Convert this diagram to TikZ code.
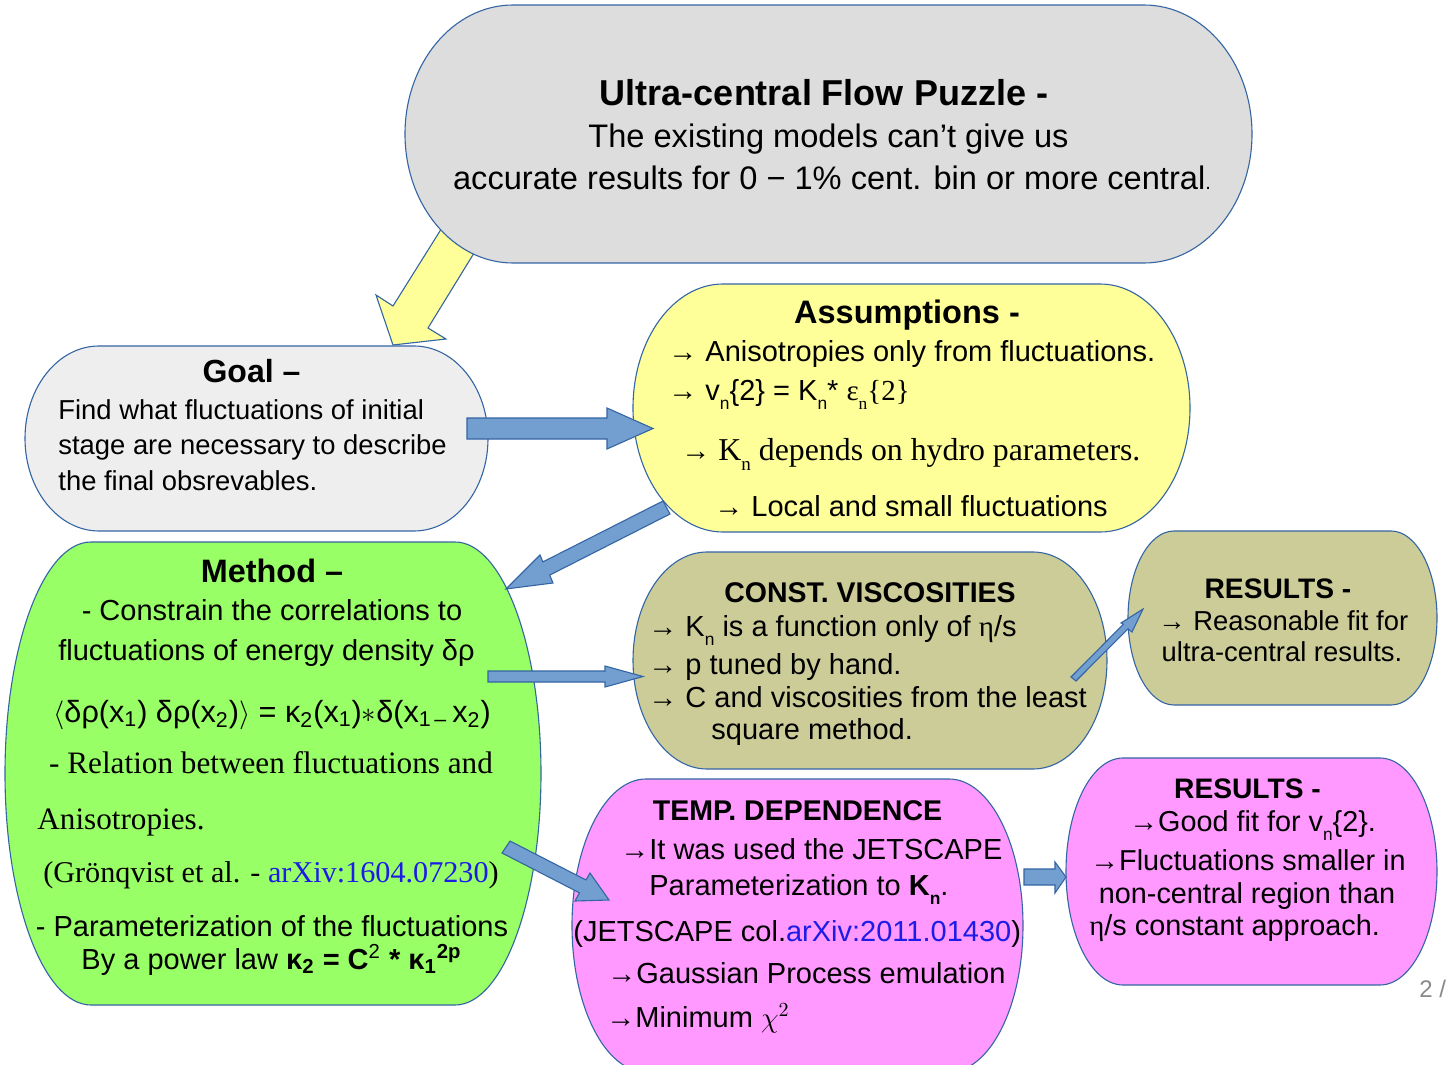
\documentclass[tikz,border=0pt]{standalone}
\usepackage{fontspec}
\setmainfont{Liberation Sans}
\newfontfamily\serifm{Liberation Serif}
\definecolor{shapeblue}{HTML}{3465A4}
\definecolor{arrowfill}{HTML}{729FCF}
\definecolor{titlegrey}{HTML}{DDDDDD}
\definecolor{goalgrey}{HTML}{EEEEEE}
\definecolor{yel}{HTML}{FFFF99}
\definecolor{grn}{HTML}{99FF66}
\definecolor{olv}{HTML}{CCCC99}
\definecolor{pnk}{HTML}{FF99FF}
\definecolor{linkblue}{HTML}{1C1CE6}
\definecolor{pggrey}{HTML}{8A8A8A}
\newcommand\fs[1]{\fontsize{#1}{#1}\selectfont}
\newcommand\sbn[1]{\raisebox{-0.32em}{\scalebox{0.6}{#1}}}
% name, x1, y1, x2, y2, rx, ry, fill
\newcommand\capsule[8]{%
\draw[shapeline, fill=#8] ({#2+#6},#3) -- ({#4-#6},#3)
 .. controls ({#4-0.4477*#6},#3) and (#4,{#3+0.4477*#7}) .. (#4,{#3+#7})
 -- (#4,{#5-#7})
 .. controls (#4,{#5-0.4477*#7}) and ({#4-0.4477*#6},#5) .. ({#4-#6},#5)
 -- ({#2+#6},#5)
 .. controls ({#2+0.4477*#6},#5) and (#2,{#5-0.4477*#7}) .. (#2,{#5-#7})
 -- (#2,{#3+#7})
 .. controls (#2,{#3+0.4477*#7}) and ({#2+0.4477*#6},#3) .. ({#2+#6},#3) -- cycle;
\coordinate (#1) at ({(#2+#4)/2},{(#3+#5)/2});}
\tikzset{
 shapeline/.style={draw=shapeblue, line width=0.55pt},
 blockarrow/.style={draw=shapeblue, fill=arrowfill, line width=0.55pt, line join=miter},
 tl/.style={inner sep=0pt, anchor=base west},
 tc/.style={inner sep=0pt, anchor=base},
 body/.style={font=\fs{14.5}},
 bodyserif/.style={font=\serifm\fs{15.6}},
}
\begin{document}
\begin{tikzpicture}[x=0.5pt,y=-0.5pt]
\useasboundingbox[fill=white] (0,0) rectangle (1447,1065);

% yellow arrow (drawn below the title shape)
\draw[shapeline, fill=yel, line join=miter] (445,223) -- (479,245) -- (428,328) -- (446,339) -- (393,345) -- (376,295) -- (393,306) -- cycle;

% shapes
\capsule{title}{405}{5}{1252}{263}{108}{129}{titlegrey}
\capsule{goal}{25}{346}{488}{531}{74}{92.5}{goalgrey}
\capsule{assum}{633}{284}{1190}{532}{90}{124}{yel}
\capsule{method}{5}{542}{541}{1005}{86}{231.5}{grn}
\capsule{constv}{633}{552}{1107}{769}{74}{108.5}{olv}
\capsule{resA}{1128}{531}{1437}{705}{46}{87}{olv}
\capsule{temp}{572}{779}{1023}{1072}{74}{146.5}{pnk}
\capsule{resB}{1066}{758}{1437}{985}{57}{113.5}{pnk}

% block arrows
\draw[blockarrow] (467,418) -- (607,418) -- (607,408) -- (653,428.5) -- (607,449) -- (607,439) -- (467,439) -- cycle;
\draw[blockarrow] (663,501) -- (670,514) -- (549.7,575.1) -- (553,583) -- (506,589) -- (540,555) -- (542.9,561.9) -- cycle;
\draw[blockarrow] (488,671) -- (605,671) -- (605,666) -- (643,676.5) -- (605,687) -- (605,682) -- (488,682) -- cycle;
\draw[blockarrow] (1071,677) -- (1123.4,624.2) -- (1121,623) -- (1143,609) -- (1132,632) -- (1128,628.8) -- (1076,681) -- cycle;
\draw[blockarrow] (510,841) -- (586,880) -- (590,873) -- (609,900) -- (575,901) -- (579.4,892.8) -- (502,853) -- cycle;
\draw[blockarrow] (1024,869) -- (1055,869) -- (1055,862) -- (1066,877) -- (1055,893) -- (1055,885) -- (1024,885) -- cycle;

% title text
\node[tc, font=\bfseries\fs{18}] (ttl1) at (824,106) {Ultra-central Flow Puzzle -};
\node[tc, font=\fs{16.3}] (ttl2) at (828.5,148) {The existing models can’t give us};
\node[tc, font=\fs{16.3}] (ttl3) at (832,190) {accurate results for 0 − 1\% cent. bin or more central{\fs{10}.}};

% goal
\node[tc, font=\bfseries\fs{16}] (g0) at (251.5,382) {Goal –};
\node[tl, font=\fs{13.7}] (g1) at (58,419) {Find what fluctuations of initial};
\node[tl, font=\fs{13.7}] (g2) at (58,454) {stage are necessary to describe};
\node[tl, font=\fs{13.7}] (g3) at (58,490) {the final obsrevables.};

% assumptions
\node[tc, font=\bfseries\fs{16.25}] (a0) at (907,323) {Assumptions -};
\node[tl, body] (a1) at (668,361) {→ Anisotropies only from fluctuations.};
\node[tl, body] (a2) at (668,400) {→ v\sbn{n}\{2\} = K\sbn{n}* {\serifm ε\sbn{n}\{2\}}};
\node[tl, body] (a3) at (681,460) {→ {\serifm\fs{15.9}K\sbn{n} depends on hydro parameters.}};
\node[tl, body] (a4) at (714,516) {→ Local and small fluctuations};

% method
\node[tc, font=\bfseries\fs{16.2}] (m0) at (272,582) {Method –};
\node[tc, body] (m1) at (272,620) {- Constrain the correlations to};
\node[tc, body] (m2) at (266.5,660) {fluctuations of energy density δρ};
\node[tc, font=\fs{15.3}] (m3) at (272,722) {\(\langle\)δρ(x\textsubscript{1}) δρ(x\textsubscript{2})\(\rangle\) = κ\textsubscript{2}(x\textsubscript{1})\(\ast\)δ(x\textsubscript{1\,–}\,x\textsubscript{2})};
\node[tc, bodyserif] (m4) at (271,773) {- Relation between fluctuations and};
\node[tl, bodyserif] (m5) at (37,829) {Anisotropies.};
\node[tc, font=\serifm\fs{15.1}] (m6) at (271,882) {(Grönqvist et al. - \textcolor{linkblue}{arXiv:1604.07230})};
\node[tc, body] (m7) at (272,936) {- Parameterization of the fluctuations};
\node[tc, body] (m8) at (271.5,969) {By a power law \textbf{κ\textsubscript{2} = C\textsuperscript{\normalfont 2} * κ\textsubscript{1}\textsuperscript{2p}}};

% const viscosities
\node[tc, font=\bfseries\fs{14.25}] (c0) at (870,602) {CONST. VISCOSITIES};
\node[tl, body] (c1) at (648,636) {→ K\sbn{n} is a function only of {\serifm η}/s};
\node[tl, body] (c2) at (648,674) {→ p tuned by hand.};
\node[tl, body] (c3) at (648,707) {→ C and viscosities from the least};
\node[tl, body] (c4) at (711,739) {square method.};

% results A
\node[tc, font=\bfseries\fs{14.1}] (r0) at (1278,598) {RESULTS -};
\node[tl, font=\fs{13.7}] (r1) at (1158,630) {→ Reasonable fit for};
\node[tc, font=\fs{13.7}] (r2) at (1282,661) {ultra-central results.};

% temp dependence
\node[tc, font=\bfseries\fs{14.25}] (p0) at (797.5,820) {TEMP. DEPENDENCE};
\node[tl, body] (p1) at (620,859) {→It was used the JETSCAPE};
\node[tl, body] (p2) at (649,895) {Parameterization to \textbf{K\sbn{n}}.};
\node[tl, body] (p3) at (573,941) {(JETSCAPE col.\textcolor{linkblue}{arXiv:2011.01430})};
\node[tl, body] (p4) at (607,983) {→Gaussian Process emulation};
\node[tl, body] (p5) at (606,1027) {→Minimum \(\chi^{2}\)};

% results B
\node[tc, font=\bfseries\fs{14.1}] (q0) at (1247.5,798) {RESULTS -};
\node[tl, font=\fs{14.4}] (q1) at (1129,831) {→Good fit for v\sbn{n}\{2\}.};
\node[tl, font=\fs{14.4}] (q2) at (1090,870) {→Fluctuations smaller in};
\node[tc, font=\fs{14.4}] (q3) at (1247,903) {non-central region than};
\node[tl, font=\fs{14.4}] (q4) at (1089,935) {{\serifm η}/s constant approach.};

% page number
\node[tl, font=\fs{12}, text=pggrey] (pg) at (1419,997) {2 /};
\end{tikzpicture}
\end{document}
